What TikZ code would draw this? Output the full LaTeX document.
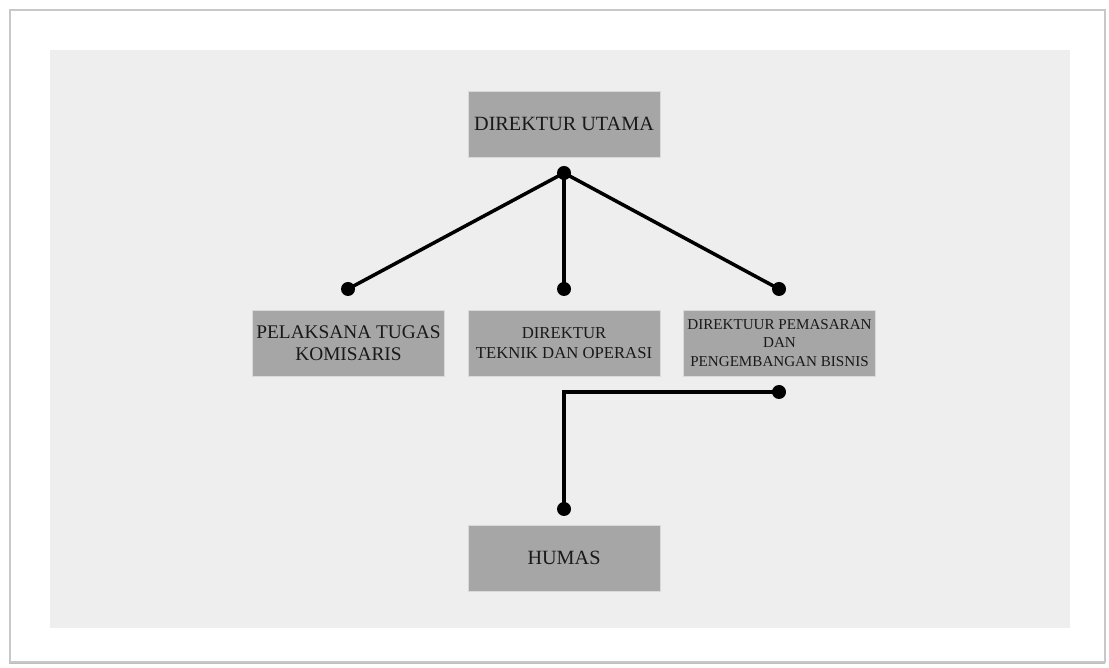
\documentclass[tikz,border=0pt]{standalone}
\usepackage{fontspec}
\setmainfont{Liberation Serif}
\definecolor{boxgray}{RGB}{166,166,166}
\definecolor{bggray}{RGB}{238,238,238}
\definecolor{framegray}{RGB}{200,200,200}
\usetikzlibrary{positioning,calc}
\tikzset{
  % frame
	cstframe/.style   ={draw=framegray,line width=1.2pt,fill=white},
	cstshadow/.style  ={draw=black!25,line width=2.5pt},
	cstbg/.style      ={fill=bggray},
  % node
	cstbox/.style     ={fill=boxgray,draw=black!15,line width=0.4pt,text=black!90,minimum width=3.84cm,minimum height=1.32cm,align=center,inner sep=1pt},
	cstbig/.style     ={font=\fontsize{11.5}{12.5}\selectfont},
	cstplt/.style     ={font=\fontsize{11}{12.5}\selectfont},
	cstmid/.style     ={font=\fontsize{9.5}{11}\selectfont},
	cstsmall/.style   ={font=\fontsize{8.6}{10.5}\selectfont},
  % line
	cstline/.style    ={line width=2pt,black},
	cstdot/.style     ={radius=.14}
}

\begin{document}
\begin{tikzpicture}
	\useasboundingbox (0,0) rectangle (22.18,13.34);
	% frame and background
	\draw[cstshadow] (0.22,13.1)--(0.22,0.1)--(22.06,0.1)--(22.06,13.1);
	\draw[cstframe] (0.2,13.14) rectangle (22.1,0.1);
	\fill[cstbg] (1,12.34) rectangle (21.4,0.78);
	% boxes
	\node[cstbox,cstbig] (utama) at (11.28,10.86) {DIREKTUR UTAMA};
	\node[cstbox,cstplt] (plt) at (6.97,6.48) {PELAKSANA TUGAS\\KOMISARIS};
	\node[cstbox,cstmid] (teknik) at (11.28,6.48) {DIREKTUR\\TEKNIK DAN OPERASI};
	\node[cstbox,cstsmall] (pemasaran) at (15.59,6.48) {DIREKTUUR PEMASARAN\\DAN\\PENGEMBANGAN BISNIS};
	\node[cstbox,cstbig] (humas) at (11.28,2.18) {HUMAS};
	% connection points
	\coordinate (u) at (11.28,9.88);
	\coordinate (p1) at (6.96,7.56);
	\coordinate (p2) at (11.28,7.56);
	\coordinate (p3) at (15.58,7.56);
	\coordinate (m) at (15.58,5.50);
	\coordinate (h) at (11.28,3.16);
	\draw[cstline] (u)--(p1);
	\draw[cstline] (u)--(p2);
	\draw[cstline] (u)--(p3);
	\draw[cstline] (m)-|(h);
	\foreach \p in {u,p1,p2,p3,m,h}
		\fill[cstdot] (\p) circle;
\end{tikzpicture}
\end{document}
